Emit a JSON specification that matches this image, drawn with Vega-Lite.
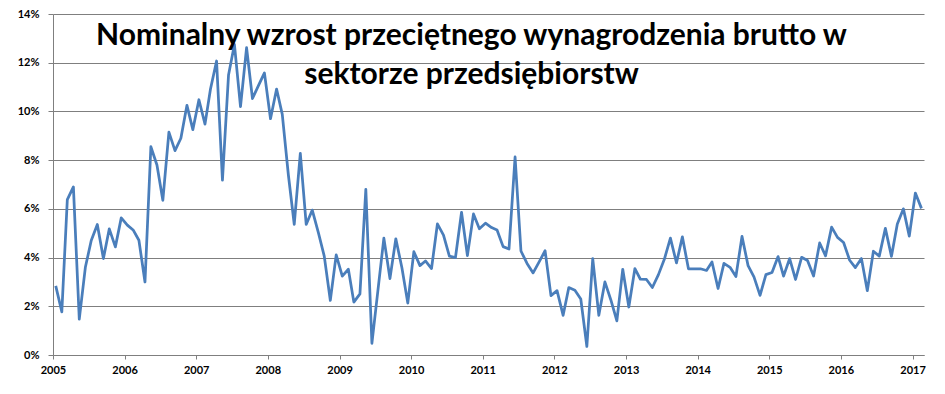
{
  "$schema": "https://vega.github.io/schema/vega-lite/v6.json",
  "width": 871,
  "height": 341,
  "autosize": {"type": "none"},
  "padding": {"left": 53, "top": 14, "right": 21, "bottom": 39},
  "background": "white",
  "title": {
    "text": ["Nominalny wzrost przeciętnego wynagrodzenia brutto w", "sektorze przedsiębiorstw"],
    "font": "Lato",
    "fontSize": 30,
    "fontWeight": "bold",
    "color": "black",
    "anchor": "middle",
    "dx": -17,
    "offset": -82,
    "lineHeight": 39
  },
  "data": {
    "values": [
      {"d": "2005-01-15", "v": 2.84}, {"d": "2005-02-15", "v": 1.77}, {"d": "2005-03-15", "v": 6.38}, {"d": "2005-04-15", "v": 6.9},
      {"d": "2005-05-15", "v": 1.47}, {"d": "2005-06-15", "v": 3.6}, {"d": "2005-07-15", "v": 4.7}, {"d": "2005-08-15", "v": 5.36},
      {"d": "2005-09-15", "v": 3.96}, {"d": "2005-10-15", "v": 5.18}, {"d": "2005-11-15", "v": 4.44}, {"d": "2005-12-15", "v": 5.63},
      {"d": "2006-01-15", "v": 5.33}, {"d": "2006-02-15", "v": 5.12}, {"d": "2006-03-15", "v": 4.71}, {"d": "2006-04-15", "v": 3.0},
      {"d": "2006-05-15", "v": 8.55}, {"d": "2006-06-15", "v": 7.8}, {"d": "2006-07-15", "v": 6.35}, {"d": "2006-08-15", "v": 9.15},
      {"d": "2006-09-15", "v": 8.39}, {"d": "2006-10-15", "v": 8.9}, {"d": "2006-11-15", "v": 10.25}, {"d": "2006-12-15", "v": 9.25},
      {"d": "2007-01-15", "v": 10.48}, {"d": "2007-02-15", "v": 9.48}, {"d": "2007-03-15", "v": 10.92}, {"d": "2007-04-15", "v": 12.07},
      {"d": "2007-05-15", "v": 7.18}, {"d": "2007-06-15", "v": 11.5}, {"d": "2007-07-15", "v": 12.75}, {"d": "2007-08-15", "v": 10.2},
      {"d": "2007-09-15", "v": 12.62}, {"d": "2007-10-15", "v": 10.53}, {"d": "2007-11-15", "v": 11.07}, {"d": "2007-12-15", "v": 11.58},
      {"d": "2008-01-15", "v": 9.7}, {"d": "2008-02-15", "v": 10.92}, {"d": "2008-03-15", "v": 9.88}, {"d": "2008-04-15", "v": 7.4},
      {"d": "2008-05-15", "v": 5.36}, {"d": "2008-06-15", "v": 8.28}, {"d": "2008-07-15", "v": 5.36}, {"d": "2008-08-15", "v": 5.95},
      {"d": "2008-09-15", "v": 5.02}, {"d": "2008-10-15", "v": 4.06}, {"d": "2008-11-15", "v": 2.24}, {"d": "2008-12-15", "v": 4.11},
      {"d": "2009-01-15", "v": 3.24}, {"d": "2009-02-15", "v": 3.52}, {"d": "2009-03-15", "v": 2.17}, {"d": "2009-04-15", "v": 2.51},
      {"d": "2009-05-15", "v": 6.8}, {"d": "2009-06-15", "v": 0.48}, {"d": "2009-07-15", "v": 2.6}, {"d": "2009-08-15", "v": 4.8},
      {"d": "2009-09-15", "v": 3.14}, {"d": "2009-10-15", "v": 4.77}, {"d": "2009-11-15", "v": 3.58}, {"d": "2009-12-15", "v": 2.13},
      {"d": "2010-01-15", "v": 4.24}, {"d": "2010-02-15", "v": 3.67}, {"d": "2010-03-15", "v": 3.86}, {"d": "2010-04-15", "v": 3.55},
      {"d": "2010-05-15", "v": 5.38}, {"d": "2010-06-15", "v": 4.92}, {"d": "2010-07-15", "v": 4.06}, {"d": "2010-08-15", "v": 4.0},
      {"d": "2010-09-15", "v": 5.86}, {"d": "2010-10-15", "v": 4.08}, {"d": "2010-11-15", "v": 5.79}, {"d": "2010-12-15", "v": 5.18},
      {"d": "2011-01-15", "v": 5.41}, {"d": "2011-02-15", "v": 5.23}, {"d": "2011-03-15", "v": 5.13}, {"d": "2011-04-15", "v": 4.45},
      {"d": "2011-05-15", "v": 4.35}, {"d": "2011-06-15", "v": 8.13}, {"d": "2011-07-15", "v": 4.27}, {"d": "2011-08-15", "v": 3.76},
      {"d": "2011-09-15", "v": 3.37}, {"d": "2011-10-15", "v": 3.81}, {"d": "2011-11-15", "v": 4.28}, {"d": "2011-12-15", "v": 2.44},
      {"d": "2012-01-15", "v": 2.64}, {"d": "2012-02-15", "v": 1.63}, {"d": "2012-03-15", "v": 2.77}, {"d": "2012-04-15", "v": 2.66},
      {"d": "2012-05-15", "v": 2.3}, {"d": "2012-06-15", "v": 0.35}, {"d": "2012-07-15", "v": 3.96}, {"d": "2012-08-15", "v": 1.63},
      {"d": "2012-09-15", "v": 3.0}, {"d": "2012-10-15", "v": 2.27}, {"d": "2012-11-15", "v": 1.4}, {"d": "2012-12-15", "v": 3.52},
      {"d": "2013-01-15", "v": 1.97}, {"d": "2013-02-15", "v": 3.55}, {"d": "2013-03-15", "v": 3.11}, {"d": "2013-04-15", "v": 3.1},
      {"d": "2013-05-15", "v": 2.77}, {"d": "2013-06-15", "v": 3.3}, {"d": "2013-07-15", "v": 3.93}, {"d": "2013-08-15", "v": 4.8},
      {"d": "2013-09-15", "v": 3.78}, {"d": "2013-10-15", "v": 4.85}, {"d": "2013-11-15", "v": 3.54}, {"d": "2013-12-15", "v": 3.54},
      {"d": "2014-01-15", "v": 3.54}, {"d": "2014-02-15", "v": 3.47}, {"d": "2014-03-15", "v": 3.82}, {"d": "2014-04-15", "v": 2.73},
      {"d": "2014-05-15", "v": 3.76}, {"d": "2014-06-15", "v": 3.6}, {"d": "2014-07-15", "v": 3.22}, {"d": "2014-08-15", "v": 4.87},
      {"d": "2014-09-15", "v": 3.67}, {"d": "2014-10-15", "v": 3.21}, {"d": "2014-11-15", "v": 2.45}, {"d": "2014-12-15", "v": 3.3},
      {"d": "2015-01-15", "v": 3.39}, {"d": "2015-02-15", "v": 4.04}, {"d": "2015-03-15", "v": 3.24}, {"d": "2015-04-15", "v": 3.96},
      {"d": "2015-05-15", "v": 3.1}, {"d": "2015-06-15", "v": 4.01}, {"d": "2015-07-15", "v": 3.88}, {"d": "2015-08-15", "v": 3.24},
      {"d": "2015-09-15", "v": 4.6}, {"d": "2015-10-15", "v": 4.07}, {"d": "2015-11-15", "v": 5.25}, {"d": "2015-12-15", "v": 4.83},
      {"d": "2016-01-15", "v": 4.62}, {"d": "2016-02-15", "v": 3.89}, {"d": "2016-03-15", "v": 3.59}, {"d": "2016-04-15", "v": 3.96},
      {"d": "2016-05-15", "v": 2.64}, {"d": "2016-06-15", "v": 4.26}, {"d": "2016-07-15", "v": 4.06}, {"d": "2016-08-15", "v": 5.2},
      {"d": "2016-09-15", "v": 4.05}, {"d": "2016-10-15", "v": 5.38}, {"d": "2016-11-15", "v": 6.0}, {"d": "2016-12-15", "v": 4.88},
      {"d": "2017-01-15", "v": 6.65}, {"d": "2017-02-15", "v": 6.02}
    ]
  },
  "mark": {"type": "line", "color": "#4a7ebb", "strokeWidth": 2.75, "strokeJoin": "round"},
  "encoding": {
    "x": {
      "field": "d",
      "type": "temporal",
      "title": null,
      "scale": {
        "type": "utc",
        "domain": [
          {"year": 2005, "month": 1, "date": 1, "utc": true},
          {"year": 2017, "month": 2, "date": 28, "utc": true}
        ]
      },
      "axis": {
        "tickCount": {"interval": "year", "step": 1},
        "format": "%Y",
        "grid": false,
        "labelFlush": false,
        "labelOverlap": false,
        "labelFont": "Lato",
        "labelFontSize": 11,
        "labelFontWeight": "bold",
        "labelColor": "black",
        "labelPadding": 5,
        "tickSize": 4,
        "tickColor": "#7f7f7f",
        "domainColor": "#7f7f7f"
      }
    },
    "y": {
      "field": "v",
      "type": "quantitative",
      "title": null,
      "scale": {"domain": [0, 14], "nice": false, "zero": true},
      "axis": {
        "values": [0, 2, 4, 6, 8, 10, 12, 14],
        "labelExpr": "datum.value + '%'",
        "labelFont": "Lato",
        "labelFontSize": 11,
        "labelFontWeight": "bold",
        "labelColor": "black",
        "labelPadding": 9,
        "tickSize": 5,
        "tickColor": "#7f7f7f",
        "domainColor": "#7f7f7f",
        "gridColor": "#7f7f7f",
        "gridOpacity": 1
      }
    }
  },
  "config": {"view": {"stroke": null}}
}
